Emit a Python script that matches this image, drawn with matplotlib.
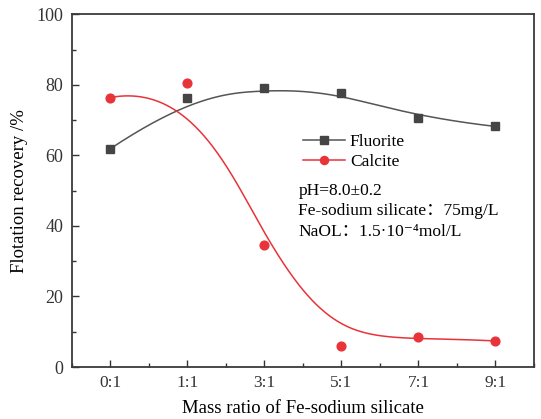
import numpy as np
import matplotlib
matplotlib.use('Agg')
import matplotlib.pyplot as plt
from matplotlib.ticker import MultipleLocator

plt.rcParams['font.family'] = ['Liberation Serif', 'DejaVu Serif', 'Noto Sans CJK SC']

ratios = ['0:1', '1:1', '3:1', '5:1', '7:1', '9:1']
fluorite = [61.9, 76.4, 79.0, 77.8, 70.7, 68.2]
calcite = [76.4, 80.4, 34.7, 6.0, 8.5, 7.4]


def bspline(ctrl, n=300, k=3):
    """Clamped cubic B-spline using the data points as control points."""
    ctrl = np.asarray(ctrl, dtype=float)
    m = len(ctrl)
    knots = np.concatenate([np.zeros(k), np.linspace(0, 1, m - k + 1), np.ones(k)])
    t = np.linspace(0, 1, n)
    t[-1] -= 1e-9
    # degree 0 basis
    B = np.zeros((n, len(knots) - 1))
    for i in range(len(knots) - 1):
        B[:, i] = (t >= knots[i]) & (t < knots[i + 1])
    for d in range(1, k + 1):
        Bn = np.zeros((n, len(knots) - 1 - d))
        for i in range(len(knots) - 1 - d):
            a = knots[i + d] - knots[i]
            b = knots[i + d + 1] - knots[i + 1]
            left = (t - knots[i]) / a * B[:, i] if a > 0 else 0
            right = (knots[i + d + 1] - t) / b * B[:, i + 1] if b > 0 else 0
            Bn[:, i] = left + right
        B = Bn
    return B @ ctrl


x = np.arange(len(ratios))

fig = plt.figure(figsize=(5.41, 4.19), dpi=100)
ax = fig.add_axes([0.133, 0.124, 0.854, 0.842])

gray = '#454545'
red = '#e8333a'
ax.plot(bspline(x), bspline(fluorite), color='#555555', lw=1.1)
ax.plot(bspline(x), bspline(calcite), color=red, lw=1.1)
ax.plot(x, fluorite, ls='none', marker='s', ms=5.8, color=gray)
ax.plot(x, calcite, ls='none', marker='o', ms=6.3, color=red)

ax.plot([], [], color='#555555', marker='s', ms=5.8, mfc=gray, mec=gray, lw=1.1, label='Fluorite')
ax.plot([], [], color=red, marker='o', ms=5.8, lw=1.1, label='Calcite')
ax.legend(loc='upper left', bbox_to_anchor=(0.485, 0.68), frameon=False,
          fontsize=12.5, handlelength=2.4, handletextpad=0.3, labelspacing=0.2,
          borderaxespad=0)

ax.text(0.49, 0.50, 'pH=8.0±0.2', transform=ax.transAxes, fontsize=12.5, va='center')
ax.text(0.49, 0.442, 'Fe-sodium silicate：75mg/L', transform=ax.transAxes, fontsize=12.5, va='center')
ax.text(0.49, 0.384, 'NaOL：1.5·10⁻⁴mol/L', transform=ax.transAxes, fontsize=12.5, va='center')

ax.set_xlim(-0.5, 5.5)
ax.set_ylim(0, 100)
ax.set_xticks(x)
ax.set_xticklabels(ratios)
ax.xaxis.set_minor_locator(MultipleLocator(0.5))
ax.yaxis.set_major_locator(MultipleLocator(20))
ax.yaxis.set_minor_locator(MultipleLocator(10))
ax.tick_params(which='both', direction='in', top=False, right=False, colors='#333333', pad=6)
ax.tick_params(axis='y', labelsize=13)
ax.tick_params(axis='x', labelsize=12.5)
ax.tick_params(which='major', length=5, width=1)
ax.tick_params(which='minor', length=3, width=1)
for s in ax.spines.values():
    s.set_linewidth(1.3)
    s.set_color('#3a3a3a')

ax.set_xlabel('Mass ratio of Fe-sodium silicate', fontsize=13.5, labelpad=6)
ax.set_ylabel('Flotation recovery /%', fontsize=13.5, labelpad=6)

fig.savefig('out.png', dpi=100)
